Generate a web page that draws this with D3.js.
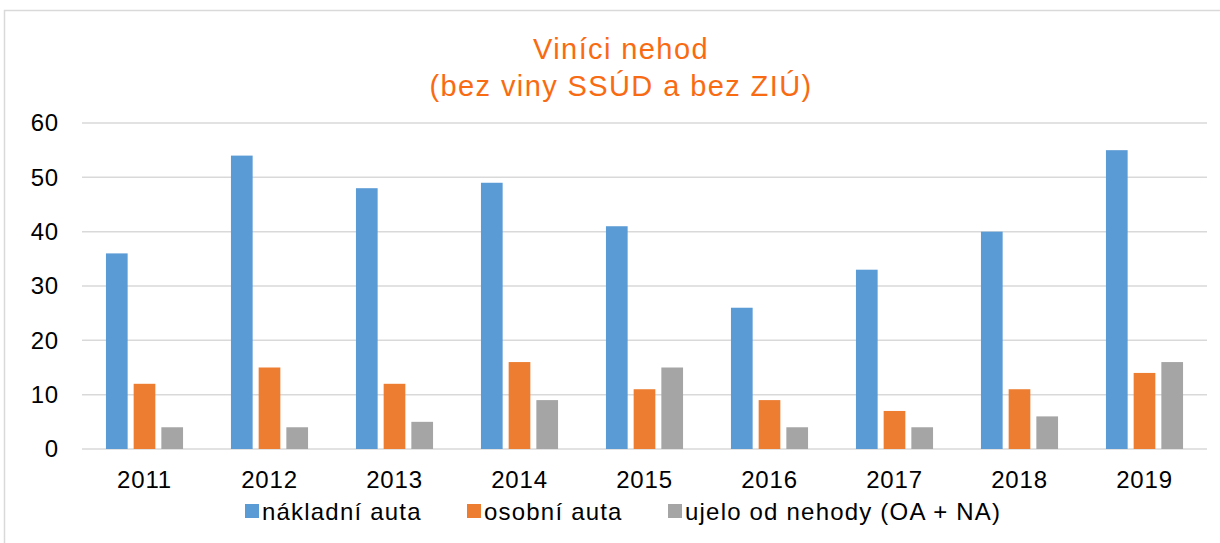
<!DOCTYPE html>
<html>
  <head>
    <meta charset="utf-8">
    <title>Viníci nehod</title>
    <script src="https://cdn.jsdelivr.net/npm/d3@7"></script>
    <style>
      body { margin: 0; background: #fff; font-family: "Liberation Sans", Arial, sans-serif; }
      #chart { display: block; }
      .axis text { font-size: 24px; fill: #000; letter-spacing: 0.8px; }
      .axis path { display: none; }
      .grid line { stroke: #d9d9d9; stroke-width: 1.5; }
      .title { fill: #f96b12; font-size: 29px; text-anchor: middle; letter-spacing: 1.4px; }
      .legend text { font-size: 24px; fill: #000; letter-spacing: 1.2px; }
    </style>
  </head>
  <body>
    <svg id="chart" width="1220" height="543"></svg>

    <script>
      // data
      const years = ["2011", "2012", "2013", "2014", "2015", "2016", "2017", "2018", "2019"];
      const seriesNames = ["nákladní auta", "osobní auta", "ujelo od nehody (OA + NA)"];
      const trucks = [36, 54, 48, 49, 41, 26, 33, 40, 55];
      const cars = [12, 15, 12, 16, 11, 9, 7, 11, 14];
      const fled = [4, 4, 5, 9, 15, 4, 4, 6, 16];
      const yTicks = [0, 10, 20, 30, 40, 50, 60];
      const colors = ["#5b9bd5", "#ed7d31", "#a5a5a5"];

      const table = years.map((y, i) => ({ year: y, values: [trucks[i], cars[i], fled[i]] }));

      const chart = d3.select("#chart");
      const width = 1220;
      const height = 543;
      const margin = { top: 123, right: 13, bottom: 94, left: 82 };

      // frame
      chart.append("rect")
        .attr("x", 4.5)
        .attr("y", 10.5)
        .attr("width", width)
        .attr("height", height)
        .attr("fill", "none")
        .attr("stroke", "#d9d9d9")
        .attr("stroke-width", 1.5);

      // title
      const title = chart.append("text").attr("class", "title");
      title.append("tspan").attr("x", 621).attr("y", 59).text("Viníci nehod");
      title.append("tspan").attr("x", 621).attr("y", 96).text("(bez viny SSÚD a bez ZIÚ)");

      // scales
      const x0 = d3.scaleBand()
        .domain(years)
        .range([margin.left, width - margin.right])
        .padding(0);
      const x1 = d3.scaleBand()
        .domain(d3.range(3))
        .range([0, x0.bandwidth()])
        .paddingInner(0.217)
        .paddingOuter(0.865);
      const y = d3.scaleLinear()
        .domain([0, 60])
        .range([height - margin.bottom, margin.top]);

      // gridlines
      chart.append("g")
        .attr("class", "grid")
        .selectAll("line")
        .data(yTicks)
        .join("line")
        .attr("x1", margin.left)
        .attr("x2", width - margin.right)
        .attr("y1", d => y(d))
        .attr("y2", d => y(d));

      // y axis
      const yAxis = d3.axisLeft(y)
        .tickValues(yTicks)
        .tickSize(0)
        .tickPadding(23);
      chart.append("g")
        .attr("class", "axis")
        .attr("transform", "translate(" + margin.left + ",0)")
        .call(yAxis)
        .selectAll("text")
        .style("font-family", "Liberation Sans, Arial, sans-serif");

      // x axis
      const xAxis = d3.axisBottom(x0)
        .tickSize(0)
        .tickPadding(22);
      chart.append("g")
        .attr("class", "axis")
        .attr("transform", "translate(0," + (height - margin.bottom) + ")")
        .call(xAxis)
        .selectAll("text")
        .style("font-family", "Liberation Sans, Arial, sans-serif");

      // bars
      const groups = chart.append("g")
        .selectAll("g")
        .data(table)
        .join("g")
        .attr("transform", d => "translate(" + x0(d.year) + ",0)");
      groups.selectAll("rect")
        .data(d => d.values.map((v, i) => ({ i: i, v: v })))
        .join("rect")
        .attr("x", d => x1(d.i))
        .attr("width", x1.bandwidth())
        .attr("y", d => y(d.v))
        .attr("height", d => y(0) - y(d.v))
        .attr("fill", d => colors[d.i]);

      // legend
      const legendX = [245, 467, 668];
      const legend = chart.append("g")
        .attr("class", "legend")
        .selectAll("g")
        .data(seriesNames)
        .join("g")
        .attr("transform", (d, i) => "translate(" + legendX[i] + ",504)");
      legend.append("rect")
        .attr("width", 14)
        .attr("height", 14)
        .attr("fill", (d, i) => colors[i]);
      legend.append("text")
        .attr("x", 17)
        .attr("y", 16)
        .text(d => d);
    </script>
  </body>
</html>
